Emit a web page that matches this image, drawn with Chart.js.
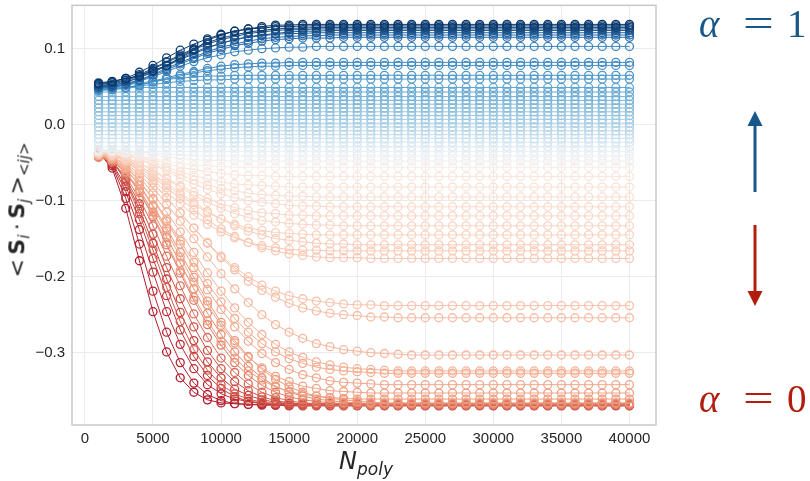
<!DOCTYPE html>
<html>
<head>
<meta charset="utf-8">
<script src="https://cdn.jsdelivr.net/npm/chart.js@4.4.1/dist/chart.umd.min.js"></script>
<style>
  html, body { margin: 0; padding: 0; background: #fff; }
  #wrap { position: relative; width: 810px; height: 481px; overflow: hidden; }
  #chart { position: absolute; left: 0; top: 0; }
  .lab { position: absolute; color: #262626; white-space: nowrap; font-family: "DejaVu Sans", sans-serif; }
  #ylab { left: 19px; top: 210px; font-size: 22px; transform: translate(-50%, -50%) rotate(-90deg); }
  #ylab sub { font-size: 15px; }
  #xlab { left: 366px; top: 447px; font-size: 24px; transform: translateX(-50%); }
  #xlab sub { font-size: 17px; }
  .greek { position: absolute; font-family: "Liberation Serif", "DejaVu Serif", serif; font-size: 39px; line-height: 1; }
  #arrows { position: absolute; left: 0; top: 0; }
</style>
</head>
<body>
<div id="wrap">
  <canvas id="chart" width="810" height="481"></canvas>
  <div id="ylab" class="lab">&lt;&#8201;<b>S</b><sub><i>i</i></sub>&#8201;·&#8201;<b>S</b><sub><i>j</i></sub>&#8201;&gt;<sub><i>&lt;ij&gt;</i></sub></div>
  <div id="xlab" class="lab"><i>N</i><sub><i>poly</i></sub></div>

  <div class="greek" style="left:699px;top:4px;color:#17578a"><i>α</i></div>
  <div class="greek" style="left:743px;top:4px;color:#17578a;transform:scaleX(1.4);transform-origin:left">=</div>
  <div class="greek" style="left:787px;top:4px;color:#17578a">1</div>
  <div class="greek" style="left:699px;top:379px;color:#b21e0e"><i>α</i></div>
  <div class="greek" style="left:743px;top:379px;color:#b21e0e;transform:scaleX(1.4);transform-origin:left">=</div>
  <div class="greek" style="left:787px;top:379px;color:#b21e0e">0</div>

  <svg id="arrows" width="810" height="481">
    <line x1="755" y1="192" x2="755" y2="122" stroke="#17578a" stroke-width="3"/>
    <polygon points="755,111 747.5,126 762.5,126" fill="#17578a"/>
    <line x1="755" y1="225" x2="755" y2="295" stroke="#b21e0e" stroke-width="3"/>
    <polygon points="755,306 747.5,291 762.5,291" fill="#b21e0e"/>
  </svg>
</div>

<script>
// N_poly values (x axis)
const xs = [1000,2000,3000,4000,5000,6000,7000,8000,9000,10000,
  11000,12000,13000,14000,15000,16000,17000,18000,19000,20000,
  21000,22000,23000,24000,25000,26000,27000,28000,29000,30000,
  31000,32000,33000,34000,35000,36000,37000,38000,39000,40000];

const xTicks = [0,5000,10000,15000,20000,25000,30000,35000,40000];
const yTicks = [-0.3,-0.2,-0.1,0,0.1];

// alpha close to 0: fast descent to the bottom
const red0 = [-.037,-.057,-.110,-.179,-.246,-.299,-.333,-.352,-.362,-.366,
  -.367,-.368,-.368,-.368,-.368,-.368,-.368,-.368,-.368,-.368,
  -.368,-.368,-.368,-.368,-.368,-.368,-.368,-.368,-.368,-.368,
  -.368,-.368,-.368,-.368,-.368,-.368,-.368,-.368,-.368,-.368];
const red1 = [-.038,-.054,-.097,-.157,-.219,-.273,-.313,-.340,-.355,-.363,
  -.367,-.368,-.369,-.369,-.369,-.369,-.369,-.369,-.369,-.369,
  -.369,-.369,-.369,-.369,-.369,-.369,-.369,-.369,-.369,-.369,
  -.369,-.369,-.369,-.369,-.369,-.369,-.369,-.369,-.369,-.369];
const red2 = [-.039,-.052,-.088,-.138,-.194,-.246,-.289,-.321,-.342,-.354,
  -.361,-.364,-.366,-.367,-.367,-.367,-.367,-.367,-.367,-.367,
  -.367,-.367,-.367,-.367,-.367,-.367,-.367,-.367,-.367,-.367,
  -.367,-.367,-.367,-.367,-.367,-.367,-.367,-.367,-.367,-.367];
const red3 = [-.040,-.051,-.081,-.125,-.176,-.225,-.270,-.305,-.330,-.347,
  -.358,-.364,-.367,-.369,-.370,-.370,-.370,-.370,-.370,-.370,
  -.370,-.370,-.370,-.370,-.370,-.370,-.370,-.370,-.370,-.370,
  -.370,-.370,-.370,-.370,-.370,-.370,-.370,-.370,-.370,-.370];
const red4 = [-.038,-.047,-.073,-.111,-.156,-.203,-.247,-.284,-.312,-.333,
  -.348,-.356,-.362,-.365,-.367,-.368,-.368,-.368,-.368,-.368,
  -.368,-.368,-.368,-.368,-.368,-.368,-.368,-.368,-.368,-.368,
  -.368,-.368,-.368,-.368,-.368,-.368,-.368,-.368,-.368,-.368];
const red5 = [-.041,-.049,-.071,-.104,-.144,-.188,-.229,-.266,-.297,-.321,
  -.338,-.350,-.358,-.363,-.366,-.367,-.369,-.369,-.369,-.369,
  -.369,-.369,-.369,-.369,-.369,-.369,-.369,-.369,-.369,-.369,
  -.369,-.369,-.369,-.369,-.369,-.369,-.369,-.369,-.369,-.369];
const red6 = [-.036,-.046,-.075,-.117,-.165,-.214,-.259,-.296,-.323,-.342,
  -.354,-.361,-.365,-.367,-.368,-.369,-.369,-.369,-.369,-.369,
  -.369,-.369,-.369,-.369,-.369,-.369,-.369,-.369,-.369,-.369,
  -.369,-.369,-.369,-.369,-.369,-.369,-.369,-.369,-.369,-.369];
const red7 = [-.042,-.049,-.068,-.097,-.133,-.173,-.212,-.249,-.280,-.307,
  -.326,-.341,-.352,-.359,-.363,-.366,-.367,-.368,-.369,-.369,
  -.369,-.369,-.369,-.369,-.369,-.369,-.369,-.369,-.369,-.369,
  -.369,-.369,-.369,-.369,-.369,-.369,-.369,-.369,-.369,-.369];
const red8 = [-.040,-.046,-.063,-.089,-.121,-.158,-.195,-.231,-.263,-.290,
  -.313,-.330,-.343,-.352,-.358,-.362,-.364,-.366,-.367,-.368,
  -.368,-.368,-.368,-.368,-.368,-.368,-.368,-.368,-.368,-.368,
  -.368,-.368,-.368,-.368,-.368,-.368,-.368,-.368,-.368,-.368];
const red9 = [-.043,-.048,-.063,-.085,-.115,-.148,-.182,-.216,-.248,-.276,
  -.299,-.318,-.333,-.344,-.352,-.357,-.361,-.363,-.365,-.366,
  -.367,-.367,-.367,-.367,-.367,-.367,-.367,-.367,-.367,-.367,
  -.367,-.367,-.367,-.367,-.367,-.367,-.367,-.367,-.367,-.367];
const red10 = [-.041,-.046,-.059,-.079,-.106,-.136,-.168,-.201,-.232,-.260,
  -.284,-.305,-.322,-.335,-.345,-.352,-.357,-.360,-.362,-.364,
  -.365,-.366,-.366,-.366,-.366,-.366,-.366,-.366,-.366,-.366,
  -.366,-.366,-.366,-.366,-.366,-.366,-.366,-.366,-.366,-.366];

// light salmon: slower, some stop above the bottom
const salmon0 = [-.040,-.046,-.062,-.088,-.119,-.155,-.192,-.227,-.258,-.285,
  -.307,-.324,-.336,-.345,-.351,-.355,-.357,-.359,-.360,-.361,
  -.361,-.361,-.361,-.361,-.361,-.361,-.361,-.361,-.361,-.361,
  -.361,-.361,-.361,-.361,-.361,-.361,-.361,-.361,-.361,-.361];
const salmon1 = [-.039,-.044,-.058,-.080,-.108,-.140,-.174,-.207,-.237,-.264,
  -.287,-.306,-.320,-.331,-.338,-.344,-.347,-.350,-.351,-.352,
  -.353,-.353,-.353,-.353,-.353,-.353,-.353,-.353,-.353,-.353,
  -.353,-.353,-.353,-.353,-.353,-.353,-.353,-.353,-.353,-.353];
const salmon2 = [-.038,-.042,-.054,-.074,-.098,-.127,-.157,-.188,-.217,-.243,
  -.266,-.285,-.301,-.313,-.322,-.329,-.333,-.337,-.339,-.340,
  -.341,-.342,-.342,-.342,-.342,-.342,-.342,-.342,-.342,-.342,
  -.342,-.342,-.342,-.342,-.342,-.342,-.342,-.342,-.342,-.342];
const salmon3 = [-.040,-.044,-.056,-.074,-.097,-.124,-.153,-.181,-.209,-.233,
  -.255,-.273,-.288,-.299,-.308,-.314,-.319,-.322,-.324,-.325,
  -.326,-.327,-.327,-.327,-.327,-.327,-.327,-.327,-.327,-.327,
  -.327,-.327,-.327,-.327,-.327,-.327,-.327,-.327,-.327,-.327];
const salmon4 = [-.039,-.042,-.053,-.069,-.090,-.115,-.141,-.168,-.195,-.219,
  -.241,-.260,-.276,-.289,-.299,-.306,-.312,-.316,-.319,-.321,
  -.322,-.323,-.324,-.324,-.324,-.324,-.324,-.324,-.324,-.324,
  -.324,-.324,-.324,-.324,-.324,-.324,-.324,-.324,-.324,-.324];
const salmon5 = [-.040,-.043,-.051,-.065,-.083,-.104,-.127,-.150,-.174,-.196,
  -.216,-.234,-.250,-.263,-.273,-.281,-.288,-.292,-.296,-.298,
  -.300,-.301,-.302,-.303,-.303,-.303,-.303,-.303,-.303,-.303,
  -.303,-.303,-.303,-.303,-.303,-.303,-.303,-.303,-.303,-.303];
const salmon6 = [-.038,-.041,-.048,-.061,-.077,-.096,-.116,-.136,-.156,-.175,
  -.191,-.206,-.218,-.227,-.235,-.241,-.245,-.248,-.250,-.251,
  -.253,-.253,-.254,-.254,-.254,-.254,-.254,-.254,-.254,-.254,
  -.254,-.254,-.254,-.254,-.254,-.254,-.254,-.254,-.254,-.254];
const salmon7 = [-.037,-.040,-.048,-.061,-.077,-.096,-.116,-.136,-.155,-.173,
  -.188,-.200,-.211,-.219,-.225,-.229,-.232,-.234,-.236,-.237,
  -.237,-.238,-.238,-.238,-.238,-.238,-.238,-.238,-.238,-.238,
  -.238,-.238,-.238,-.238,-.238,-.238,-.238,-.238,-.238,-.238];

// pale pink
const pink0 = [-.038,-.040,-.046,-.056,-.069,-.083,-.097,-.112,-.125,-.137,
  -.147,-.155,-.162,-.166,-.170,-.172,-.174,-.175,-.175,-.175,
  -.176,-.176,-.176,-.176,-.176,-.176,-.176,-.176,-.176,-.176,
  -.176,-.176,-.176,-.176,-.176,-.176,-.176,-.176,-.176,-.176];
const pink1 = [-.037,-.040,-.047,-.059,-.073,-.089,-.104,-.119,-.131,-.141,
  -.149,-.155,-.159,-.162,-.164,-.165,-.165,-.166,-.166,-.166,
  -.166,-.166,-.166,-.166,-.166,-.166,-.166,-.166,-.166,-.166,
  -.166,-.166,-.166,-.166,-.166,-.166,-.166,-.166,-.166,-.166];
const pink2 = [-.038,-.040,-.045,-.054,-.065,-.077,-.090,-.102,-.114,-.124,
  -.133,-.140,-.145,-.150,-.152,-.154,-.156,-.157,-.157,-.158,
  -.158,-.158,-.158,-.158,-.158,-.158,-.158,-.158,-.158,-.158,
  -.158,-.158,-.158,-.158,-.158,-.158,-.158,-.158,-.158,-.158];
const pink3 = [-.036,-.038,-.045,-.054,-.066,-.080,-.093,-.105,-.116,-.124,
  -.131,-.136,-.139,-.142,-.143,-.144,-.145,-.145,-.145,-.145,
  -.145,-.145,-.145,-.145,-.145,-.145,-.145,-.145,-.145,-.145,
  -.145,-.145,-.145,-.145,-.145,-.145,-.145,-.145,-.145,-.145];
const pink4 = [-.037,-.039,-.044,-.051,-.061,-.072,-.082,-.093,-.102,-.110,
  -.117,-.122,-.126,-.128,-.130,-.131,-.132,-.132,-.133,-.133,
  -.133,-.133,-.133,-.133,-.133,-.133,-.133,-.133,-.133,-.133,
  -.133,-.133,-.133,-.133,-.133,-.133,-.133,-.133,-.133,-.133];
const pink5 = [-.036,-.038,-.043,-.050,-.059,-.070,-.080,-.089,-.097,-.104,
  -.109,-.113,-.116,-.117,-.119,-.119,-.120,-.120,-.120,-.120,
  -.120,-.120,-.120,-.120,-.120,-.120,-.120,-.120,-.120,-.120,
  -.120,-.120,-.120,-.120,-.120,-.120,-.120,-.120,-.120,-.120];
const pink6 = [-.035,-.036,-.040,-.046,-.053,-.061,-.070,-.078,-.085,-.091,
  -.096,-.100,-.102,-.104,-.106,-.107,-.107,-.108,-.108,-.108,
  -.108,-.108,-.108,-.108,-.108,-.108,-.108,-.108,-.108,-.108,
  -.108,-.108,-.108,-.108,-.108,-.108,-.108,-.108,-.108,-.108];
const pink7 = [-.035,-.036,-.040,-.045,-.052,-.059,-.066,-.073,-.079,-.084,
  -.087,-.090,-.092,-.093,-.094,-.094,-.095,-.095,-.095,-.095,
  -.095,-.095,-.095,-.095,-.095,-.095,-.095,-.095,-.095,-.095,
  -.095,-.095,-.095,-.095,-.095,-.095,-.095,-.095,-.095,-.095];
const pink8 = [-.034,-.035,-.038,-.043,-.049,-.056,-.062,-.067,-.071,-.075,
  -.078,-.079,-.080,-.081,-.082,-.082,-.082,-.082,-.082,-.082,
  -.082,-.082,-.082,-.082,-.082,-.082,-.082,-.082,-.082,-.082,
  -.082,-.082,-.082,-.082,-.082,-.082,-.082,-.082,-.082,-.082];
const pink9 = [-.034,-.035,-.038,-.042,-.046,-.051,-.056,-.059,-.062,-.064,
  -.066,-.067,-.067,-.068,-.068,-.068,-.068,-.068,-.068,-.068,
  -.068,-.068,-.068,-.068,-.068,-.068,-.068,-.068,-.068,-.068,
  -.068,-.068,-.068,-.068,-.068,-.068,-.068,-.068,-.068,-.068];

// near-white to light blue band, almost flat
const band0 = [-.034,-.035,-.037,-.041,-.044,-.048,-.051,-.053,-.054,-.055,
  -.056,-.056,-.056,-.056,-.056,-.056,-.056,-.056,-.056,-.056,
  -.056,-.056,-.056,-.056,-.056,-.056,-.056,-.056,-.056,-.056,
  -.056,-.056,-.056,-.056,-.056,-.056,-.056,-.056,-.056,-.056];
const band1 = [-.033,-.034,-.035,-.038,-.040,-.042,-.044,-.046,-.047,-.047,
  -.048,-.048,-.048,-.048,-.048,-.048,-.048,-.048,-.048,-.048,
  -.048,-.048,-.048,-.048,-.048,-.048,-.048,-.048,-.048,-.048,
  -.048,-.048,-.048,-.048,-.048,-.048,-.048,-.048,-.048,-.048];
const band2 = [-.032,-.033,-.034,-.036,-.037,-.039,-.040,-.041,-.041,-.041,
  -.041,-.041,-.041,-.041,-.041,-.041,-.041,-.041,-.041,-.041,
  -.041,-.041,-.041,-.041,-.041,-.041,-.041,-.041,-.041,-.041,
  -.041,-.041,-.041,-.041,-.041,-.041,-.041,-.041,-.041,-.041];
const band3 = [-.035,-.035,-.035,-.035,-.035,-.035,-.035,-.035,-.035,-.035,
  -.035,-.035,-.035,-.035,-.035,-.035,-.035,-.035,-.035,-.035,
  -.035,-.035,-.035,-.035,-.035,-.035,-.035,-.035,-.035,-.035,
  -.035,-.035,-.035,-.035,-.035,-.035,-.035,-.035,-.035,-.035];
const band4 = [-.029,-.029,-.029,-.029,-.029,-.029,-.029,-.029,-.029,-.029,
  -.029,-.029,-.029,-.029,-.029,-.029,-.029,-.029,-.029,-.029,
  -.029,-.029,-.029,-.029,-.029,-.029,-.029,-.029,-.029,-.029,
  -.029,-.029,-.029,-.029,-.029,-.029,-.029,-.029,-.029,-.029];
const band5 = [-.023,-.023,-.023,-.023,-.023,-.023,-.023,-.023,-.023,-.023,
  -.023,-.023,-.023,-.023,-.023,-.023,-.023,-.023,-.023,-.023,
  -.023,-.023,-.023,-.023,-.023,-.023,-.023,-.023,-.023,-.023,
  -.023,-.023,-.023,-.023,-.023,-.023,-.023,-.023,-.023,-.023];
const band6 = [-.018,-.018,-.018,-.018,-.018,-.018,-.018,-.018,-.018,-.018,
  -.018,-.018,-.018,-.018,-.018,-.018,-.018,-.018,-.018,-.018,
  -.018,-.018,-.018,-.018,-.018,-.018,-.018,-.018,-.018,-.018,
  -.018,-.018,-.018,-.018,-.018,-.018,-.018,-.018,-.018,-.018];
const band7 = [-.013,-.013,-.013,-.013,-.013,-.013,-.013,-.013,-.013,-.013,
  -.013,-.013,-.013,-.013,-.013,-.013,-.013,-.013,-.013,-.013,
  -.013,-.013,-.013,-.013,-.013,-.013,-.013,-.013,-.013,-.013,
  -.013,-.013,-.013,-.013,-.013,-.013,-.013,-.013,-.013,-.013];
const band8 = [-.008,-.008,-.008,-.008,-.008,-.008,-.008,-.008,-.008,-.008,
  -.008,-.008,-.008,-.008,-.008,-.008,-.008,-.008,-.008,-.008,
  -.008,-.008,-.008,-.008,-.008,-.008,-.008,-.008,-.008,-.008,
  -.008,-.008,-.008,-.008,-.008,-.008,-.008,-.008,-.008,-.008];
const band9 = [-.003,-.003,-.003,-.003,-.003,-.003,-.003,-.003,-.003,-.003,
  -.003,-.003,-.003,-.003,-.003,-.003,-.003,-.003,-.003,-.003,
  -.003,-.003,-.003,-.003,-.003,-.003,-.003,-.003,-.003,-.003,
  -.003,-.003,-.003,-.003,-.003,-.003,-.003,-.003,-.003,-.003];
const band10 = [.002,.002,.002,.002,.002,.002,.002,.002,.002,.002,
  .002,.002,.002,.002,.002,.002,.002,.002,.002,.002,
  .002,.002,.002,.002,.002,.002,.002,.002,.002,.002,
  .002,.002,.002,.002,.002,.002,.002,.002,.002,.002];
const band11 = [.007,.007,.007,.007,.007,.007,.007,.007,.007,.007,
  .007,.007,.007,.007,.007,.007,.007,.007,.007,.007,
  .007,.007,.007,.007,.007,.007,.007,.007,.007,.007,
  .007,.007,.007,.007,.007,.007,.007,.007,.007,.007];
const band12 = [.012,.012,.012,.012,.012,.012,.012,.012,.012,.012,
  .012,.012,.012,.012,.012,.012,.012,.012,.012,.012,
  .012,.012,.012,.012,.012,.012,.012,.012,.012,.012,
  .012,.012,.012,.012,.012,.012,.012,.012,.012,.012];
const band13 = [.017,.017,.017,.017,.017,.017,.017,.017,.017,.017,
  .017,.017,.017,.017,.017,.017,.017,.017,.017,.017,
  .017,.017,.017,.017,.017,.017,.017,.017,.017,.017,
  .017,.017,.017,.017,.017,.017,.017,.017,.017,.017];
const band14 = [.022,.022,.022,.022,.022,.022,.022,.022,.022,.022,
  .022,.022,.022,.022,.022,.022,.022,.022,.022,.022,
  .022,.022,.022,.022,.022,.022,.022,.022,.022,.022,
  .022,.022,.022,.022,.022,.022,.022,.022,.022,.022];
const band15 = [.027,.027,.027,.027,.027,.027,.027,.027,.027,.027,
  .027,.027,.027,.027,.027,.027,.027,.027,.027,.027,
  .027,.027,.027,.027,.027,.027,.027,.027,.027,.027,
  .027,.027,.027,.027,.027,.027,.027,.027,.027,.027];
const band16 = [.032,.032,.032,.032,.032,.032,.032,.032,.032,.032,
  .032,.032,.032,.032,.032,.032,.032,.032,.032,.032,
  .032,.032,.032,.032,.032,.032,.032,.032,.032,.032,
  .032,.032,.032,.032,.032,.032,.032,.032,.032,.032];
const band17 = [.037,.037,.037,.037,.037,.037,.037,.037,.037,.037,
  .037,.037,.037,.037,.037,.037,.037,.037,.037,.037,
  .037,.037,.037,.037,.037,.037,.037,.037,.037,.037,
  .037,.037,.037,.037,.037,.037,.037,.037,.037,.037];
const band18 = [.043,.043,.043,.043,.043,.043,.043,.043,.043,.043,
  .043,.043,.043,.043,.043,.043,.043,.043,.043,.043,
  .043,.043,.043,.043,.043,.043,.043,.043,.043,.043,
  .043,.043,.043,.043,.043,.043,.043,.043,.043,.043];
const band19 = [.049,.049,.049,.049,.049,.049,.049,.049,.049,.049,
  .049,.049,.049,.049,.049,.049,.049,.049,.049,.049,
  .049,.049,.049,.049,.049,.049,.049,.049,.049,.049,
  .049,.049,.049,.049,.049,.049,.049,.049,.049,.049];

// mid blue, small rise
const mid0 = [.047,.048,.049,.051,.053,.055,.057,.058,.059,.059,
  .060,.060,.060,.060,.060,.060,.060,.060,.060,.060,
  .060,.060,.060,.060,.060,.060,.060,.060,.060,.060,
  .060,.060,.060,.060,.060,.060,.060,.060,.060,.060];
const mid1 = [.050,.051,.052,.055,.057,.060,.061,.063,.064,.064,
  .065,.065,.065,.065,.065,.065,.065,.065,.065,.065,
  .065,.065,.065,.065,.065,.065,.065,.065,.065,.065,
  .065,.065,.065,.065,.065,.065,.065,.065,.065,.065];
const mid2 = [.046,.047,.049,.052,.056,.060,.064,.068,.071,.073,
  .075,.076,.077,.077,.078,.078,.078,.078,.078,.078,
  .078,.078,.078,.078,.078,.078,.078,.078,.078,.078,
  .078,.078,.078,.078,.078,.078,.078,.078,.078,.078];
const mid3 = [.045,.046,.048,.052,.057,.062,.066,.070,.074,.077,
  .079,.080,.081,.081,.082,.082,.082,.082,.082,.082,
  .082,.082,.082,.082,.082,.082,.082,.082,.082,.082,
  .082,.082,.082,.082,.082,.082,.082,.082,.082,.082];
const mid4 = [.048,.049,.052,.057,.063,.070,.077,.083,.088,.092,
  .096,.098,.100,.101,.102,.102,.103,.103,.103,.103,
  .103,.103,.103,.103,.103,.103,.103,.103,.103,.103,
  .103,.103,.103,.103,.103,.103,.103,.103,.103,.103];

// alpha close to 1: rise to the top
const top0 = [.048,.049,.053,.058,.065,.072,.080,.087,.094,.099,
  .104,.107,.110,.112,.113,.114,.114,.114,.115,.115,
  .115,.115,.115,.115,.115,.115,.115,.115,.115,.115,
  .115,.115,.115,.115,.115,.115,.115,.115,.115,.115];
const top1 = [.049,.050,.054,.059,.066,.074,.082,.089,.096,.102,
  .106,.110,.113,.115,.116,.117,.117,.118,.118,.118,
  .118,.118,.118,.118,.118,.118,.118,.118,.118,.118,
  .118,.118,.118,.118,.118,.118,.118,.118,.118,.118];
const top2 = [.050,.051,.056,.062,.070,.078,.087,.095,.102,.107,
  .112,.115,.117,.119,.120,.120,.121,.121,.121,.121,
  .121,.121,.121,.121,.121,.121,.121,.121,.121,.121,
  .121,.121,.121,.121,.121,.121,.121,.121,.121,.121];
const top3 = [.051,.052,.056,.062,.069,.077,.086,.093,.101,.107,
  .112,.116,.118,.120,.122,.123,.123,.124,.124,.124,
  .124,.124,.124,.124,.124,.124,.124,.124,.124,.124,
  .124,.124,.124,.124,.124,.124,.124,.124,.124,.124];
const top4 = [.052,.053,.058,.064,.073,.082,.090,.099,.106,.112,
  .116,.120,.122,.124,.125,.125,.126,.126,.126,.126,
  .126,.126,.126,.126,.126,.126,.126,.126,.126,.126,
  .126,.126,.126,.126,.126,.126,.126,.126,.126,.126];
const top5 = [.053,.055,.059,.066,.074,.083,.092,.100,.108,.114,
  .118,.122,.124,.126,.127,.127,.128,.128,.128,.128,
  .128,.128,.128,.128,.128,.128,.128,.128,.128,.128,
  .128,.128,.128,.128,.128,.128,.128,.128,.128,.128];
const top6 = [.054,.056,.061,.069,.078,.088,.098,.106,.113,.119,
  .123,.126,.127,.129,.129,.130,.130,.130,.130,.130,
  .130,.130,.130,.130,.130,.130,.130,.130,.130,.130,
  .130,.130,.130,.130,.130,.130,.130,.130,.130,.130];
const top7 = [.055,.057,.061,.064,.071,.078,.088,.098,.111,.118,
  .123,.126,.129,.131,.131,.132,.132,.132,.132,.132,
  .132,.132,.132,.132,.132,.132,.132,.132,.132,.132,
  .132,.132,.132,.132,.132,.132,.132,.132,.132,.132];

// ordered from alpha = 0 to alpha = 1
const series = [red0, red1, red2, red3, red4, red5, red6, red7, red8, red9, red10,
  salmon0, salmon1, salmon2, salmon3, salmon4, salmon5, salmon6, salmon7,
  pink0, pink1, pink2, pink3, pink4, pink5, pink6, pink7, pink8, pink9,
  band0, band1, band2, band3, band4, band5, band6, band7, band8, band9,
  band10, band11, band12, band13, band14, band15, band16, band17, band18, band19,
  mid0, mid1, mid2, mid3, mid4,
  top0, top1, top2, top3, top4, top5, top6, top7];

// colour map (red -> white -> blue), positions in alpha
const cmap = [
  [0.000, '#b2182b'], [0.066, '#c8413c'], [0.131, '#e07b62'], [0.164, '#ee9a7c'],
  [0.230, '#f4ac90'], [0.295, '#f8c3ac'], [0.377, '#f9d4c3'], [0.459, '#f8e4da'],
  [0.480, '#f5eeea'], [0.525, '#e6eff5'], [0.574, '#cfe3f0'], [0.639, '#acd0e6'],
  [0.721, '#85bbdb'], [0.787, '#5fa5d1'], [0.869, '#3b85bf'], [0.885, '#2c70b0'],
  [1.000, '#0a3669']
];

function hexToRgb(h) {
  return [parseInt(h.slice(1, 3), 16), parseInt(h.slice(3, 5), 16), parseInt(h.slice(5, 7), 16)];
}

function colorAt(t) {
  for (let k = 1; k < cmap.length; k++) {
    if (t <= cmap[k][0]) {
      const [p0, c0] = cmap[k - 1];
      const [p1, c1] = cmap[k];
      const f = (t - p0) / (p1 - p0);
      const a = hexToRgb(c0), b = hexToRgb(c1);
      const m = a.map((v, i) => Math.round(v + (b[i] - v) * f));
      return `rgb(${m[0]},${m[1]},${m[2]})`;
    }
  }
  return cmap[cmap.length - 1][1];
}

const N = series.length;
const datasets = series.map((ys, i) => {
  const c = colorAt(i / (N - 1));
  return {
    data: ys.map((y, j) => ({ x: xs[j], y: y })),
    borderColor: c,
    backgroundColor: c,
    borderWidth: 1,
    pointRadius: 4,
    pointBorderWidth: 1.3,
    pointBorderColor: c,
    pointBackgroundColor: 'rgba(255,255,255,0)',
    pointStyle: 'circle',
    fill: false,
    tension: 0,
    order: N - i   // higher alpha drawn on top
  };
});

// grey frame around the plot area
const framePlugin = {
  id: 'frame',
  afterDatasetsDraw(chart) {
    const { ctx, chartArea: a } = chart;
    ctx.save();
    ctx.strokeStyle = '#c8c8c8';
    ctx.lineWidth = 1.5;
    ctx.strokeRect(a.left, a.top, a.right - a.left, a.bottom - a.top);
    ctx.restore();
  }
};

const tickFont = { family: '"Liberation Sans", Arial, sans-serif', size: 15 };

new Chart(document.getElementById('chart').getContext('2d'), {
  type: 'line',
  data: { datasets: datasets },
  plugins: [framePlugin],
  options: {
    responsive: false,
    animation: false,
    devicePixelRatio: 1,
    layout: { padding: { left: 0, right: 154, top: 0, bottom: 0 } },
    plugins: { legend: { display: false }, tooltip: { enabled: false } },
    scales: {
      x: {
        type: 'linear',
        min: -950,
        max: 41950,
        afterBuildTicks: axis => { axis.ticks = xTicks.map(v => ({ value: v })); },
        afterFit: axis => { axis.height = 56; axis.paddingLeft = 0; axis.paddingRight = 0; },
        grid: { color: '#ebebeb', lineWidth: 1, drawTicks: false },
        border: { display: false },
        ticks: {
          autoSkip: false, maxRotation: 0, padding: 5,
          color: '#262626', font: tickFont,
          callback: v => String(v)
        }
      },
      y: {
        type: 'linear',
        min: -0.3951,
        max: 0.1571,
        afterBuildTicks: axis => { axis.ticks = yTicks.map(v => ({ value: v })); },
        afterFit: axis => { axis.width = 72; axis.paddingTop = 0; axis.paddingBottom = 0; },
        grid: { color: '#ebebeb', lineWidth: 1, drawTicks: false },
        border: { display: false },
        ticks: {
          padding: 7,
          color: '#262626', font: tickFont,
          callback: v => (v < -1e-9 ? '\u2212' : '') + Math.abs(v).toFixed(1)
        }
      }
    }
  }
});
</script>
</body>
</html>
